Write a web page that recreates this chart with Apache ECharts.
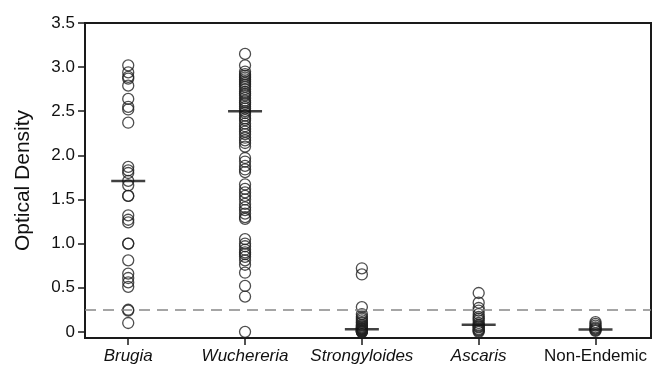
<!DOCTYPE html>
<html>
<head>
<meta charset="utf-8">
<script src="https://cdn.jsdelivr.net/npm/echarts@6/dist/echarts.min.js"></script>
<style>
html,body{margin:0;padding:0;background:#fff;}
#chart{width:655px;height:369px;}
</style>
</head>
<body>
<div id="chart"></div>
<script>
// groups along the x axis
var groups = ['Brugia', 'Wuchereria', 'Strongyloides', 'Ascaris', 'Non-Endemic'];
var italicGroup = [true, true, true, true, false];

// optical density readings
var brugia = [3.02, 2.94, 2.89, 2.87, 2.79, 2.64, 2.55, 2.52, 2.37,
    1.87, 1.83, 1.80, 1.71, 1.66, 1.54, 1.54,
    1.32, 1.27, 1.24, 1.00, 1.00, 0.81,
    0.66, 0.61, 0.56, 0.51, 0.25, 0.24, 0.10];
var wuchereria = [3.15, 3.02, 2.95, 2.92, 2.90, 2.88, 2.86, 2.84, 2.82, 2.80, 2.78, 2.75,
    2.72, 2.70, 2.68, 2.65, 2.62, 2.60, 2.58, 2.55, 2.53, 2.50, 2.48, 2.45,
    2.42, 2.40, 2.36, 2.33, 2.30, 2.27, 2.24, 2.20, 2.17, 2.14, 2.10,
    1.97, 1.93, 1.88, 1.84, 1.81,
    1.67, 1.62, 1.58, 1.54, 1.50, 1.45, 1.41, 1.38, 1.34, 1.30, 1.28,
    1.05, 1.00, 0.97, 0.93, 0.90, 0.88, 0.85, 0.81, 0.76, 0.67,
    0.52, 0.40, 0.00];
var strongyloides = [0.72, 0.65, 0.28, 0.20, 0.17, 0.15, 0.13, 0.11, 0.10, 0.08, 0.07,
    0.06, 0.05, 0.04, 0.04, 0.03, 0.03, 0.02, 0.02, 0.01, 0.01, 0.00, 0.00, 0.00];
var ascaris = [0.44, 0.33, 0.27, 0.24, 0.20, 0.17, 0.15, 0.13, 0.10, 0.08, 0.07,
    0.06, 0.05, 0.03, 0.02, 0.01, 0.00];
var nonEndemic = [0.11, 0.09, 0.07, 0.05, 0.04, 0.03, 0.02, 0.01];

var medians = [1.71, 2.50, 0.03, 0.08, 0.025];
var cutoff = 0.25;

var yTicks = [0, 0.5, 1.0, 1.5, 2.0, 2.5, 3.0, 3.5];

var allGroups = [brugia, wuchereria, strongyloides, ascaris, nonEndemic];
var points = [];
for (var g = 0; g < allGroups.length; g++) {
    for (var k = 0; k < allGroups[g].length; k++) {
        points.push([g, allGroups[g][k]]);
    }
}
var medianPts = [];
for (var m = 0; m < medians.length; m++) {
    medianPts.push([m, medians[m]]);
}

var FONT = 'Liberation Sans, Arial, sans-serif';
var myChart = echarts.init(document.getElementById('chart'));
var option = {
    animation: false,
    backgroundColor: '#fff',
    textStyle: { fontFamily: FONT },
    grid: {
        left: 85, right: 4, top: 23, bottom: 31,
        show: true, borderColor: '#1a1a1a', borderWidth: 2
    },
    xAxis: {
        type: 'value',
        min: -0.37,
        max: 4.475,
        splitLine: { show: false },
        axisLine: { show: true, onZero: false, lineStyle: { color: '#1a1a1a', width: 2 } },
        axisTick: { show: true, length: 7, customValues: [0, 1, 2, 3, 4], lineStyle: { color: '#1a1a1a', width: 1.5 } },
        axisLabel: {
            customValues: [0, 1, 2, 3, 4],
            margin: 10,
            color: '#111',
            fontSize: 17,
            formatter: function (v) {
                var i = Math.round(v);
                return italicGroup[i] ? '{it|' + groups[i] + '}' : '{n|' + groups[i] + '}';
            },
            rich: {
                it: { fontStyle: 'italic', fontSize: 17, color: '#111', fontFamily: FONT },
                n: { fontSize: 17, color: '#111', fontFamily: FONT }
            }
        }
    },
    yAxis: {
        type: 'value',
        min: -0.07,
        max: 3.5,
        name: 'Optical Density',
        nameLocation: 'middle',
        nameGap: 51,
        nameTextStyle: { fontSize: 21, color: '#111' },
        splitLine: { show: false },
        axisLine: { show: true, onZero: false, lineStyle: { color: '#1a1a1a', width: 2 } },
        axisTick: { show: true, length: 7, customValues: yTicks, lineStyle: { color: '#1a1a1a', width: 1.5 } },
        axisLabel: {
            customValues: yTicks,
            margin: 10,
            fontSize: 17,
            color: '#111',
            formatter: function (v) {
                return v === 0 ? '0' : v.toFixed(1);
            }
        }
    },
    series: [
        {
            type: 'scatter',
            data: points,
            symbol: 'circle',
            symbolSize: 11,
            itemStyle: { color: 'rgba(255,255,255,0)', borderColor: '#222', borderWidth: 1.3 },
            markLine: {
                silent: true,
                symbol: 'none',
                label: { show: false },
                lineStyle: { color: '#888', type: [11, 7], width: 1.5 },
                data: [{ yAxis: cutoff }]
            },
            z: 3
        },
        {
            type: 'scatter',
            data: medianPts,
            symbol: 'rect',
            symbolSize: [34, 2.5],
            itemStyle: { color: '#111' },
            z: 4
        }
    ]
};
myChart.setOption(option);
</script>
</body>
</html>
